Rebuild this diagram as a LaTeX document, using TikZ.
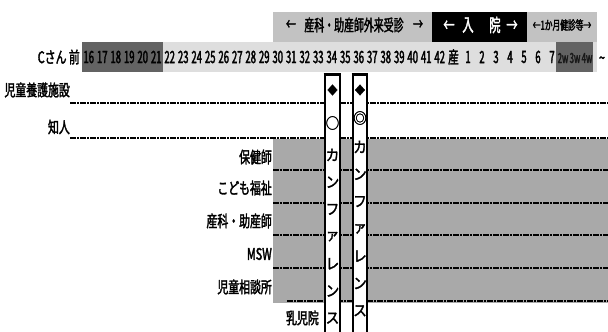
\documentclass[tikz,border=0pt]{standalone}
\usepackage{fontspec}
\newfontfamily\jp[FakeStretch=0.68,FakeBold=2]{Noto Sans CJK JP}
\newfontfamily\jph[FakeStretch=0.62,FakeBold=2]{Noto Sans CJK JP}
\newfontfamily\jpn[FakeStretch=0.56,FakeBold=2]{Noto Sans CJK JP}
\newfontfamily\jpv[FakeStretch=0.9,FakeBold=2]{Noto Sans CJK JP}
\definecolor{hdrgray}{HTML}{C2C2C2}
\definecolor{bandgray}{HTML}{DEDEDE}
\definecolor{darkband}{HTML}{636363}
\definecolor{rowgray}{HTML}{A9A9A9}
\begin{document}
\begin{tikzpicture}[x=1pt,y=-1pt,
  lbl/.style={font=\jp\fontsize{16}{16}\selectfont, inner sep=0pt, anchor=east},
  num/.style={font=\jpn\fontsize{17}{17}\selectfont, inner sep=0pt},
  rowline/.style={line width=2.2pt, dash pattern=on 6pt off 1pt on 2pt off 1pt},
  conf/.style={draw, line width=1.4pt, fill=white, inner sep=0pt, anchor=north},
  vch/.style={font=\jpv\fontsize{15}{15}\selectfont, inner sep=0pt},
  hdr/.style={font=\jph\fontsize{16}{16}\selectfont, inner sep=0pt}]
\useasboundingbox (0,0) rectangle (608,332);
\fill[white] (0,0) rectangle (608,332);

% header band
\fill[hdrgray] (273,12) rectangle (597,42);
\fill[black] (432,12) rectangle (527,43);
\node[hdr] (harrL) at (291,25) {←};
\node[hdr] (htext) at (354,25) {産科・助産師外来受診};
\node[hdr] (harrR) at (418,25) {→};
\node[hdr, text=white, font=\jph\fontsize{18}{18}\selectfont] (inL) at (449,26) {←};
\node[hdr, text=white, font=\jph\fontsize{18}{18}\selectfont] (inA) at (468,25) {入};
\node[hdr, text=white, font=\jph\fontsize{18}{18}\selectfont] (inB) at (495,25) {院};
\node[hdr, text=white, font=\jph\fontsize{18}{18}\selectfont] (inR) at (512,26) {→};
\node[hdr, font=\jph\fontsize{12.5}{12.5}\selectfont] (kenshin) at (562,25) {←1か月健診等→};

% numbers band
\fill[bandgray] (82,42) rectangle (597,72);
\fill[darkband] (82,42) rectangle (163,72);
\fill[darkband] (556,42) rectangle (593,72);
\node[lbl] (csan) at (80,57) {Cさん 前};
\foreach \n [count=\i from 0] in {16,17,18,19,20,21}
  \node[num] (d\n) at (88.75+13.5*\i,57) {\n};
\foreach \n [count=\i from 0] in {22,23,24,25,26,27,28,29,30,31,32,33,34,35,36,37,38,39,40,41,42}
  \node[num] (d\n) at (169.75+13.5*\i,57) {\n};
\node[num, font=\jph\fontsize{17}{17}\selectfont] (birth) at (453.5,57) {産};
\foreach \n [count=\i from 0] in {1,2,3,4,5,6,7}
  \node[num] (p\n) at (468+14*\i,57) {\n};
\node[num, text=black!90, font=\jpn\fontsize{14}{14}\selectfont] (w2) at (563,58) {2w};
\node[num, text=black!90, font=\jpn\fontsize{14}{14}\selectfont] (w3) at (575,58) {3w};
\node[num, text=black!90, font=\jpn\fontsize{14}{14}\selectfont] (w4) at (587,58) {4w};
\node[num, font=\jp\fontsize{16}{16}\selectfont] (tilde) at (602,60) {\textasciitilde};

% gray area of rows
\fill[rowgray] (273,139) rectangle (608,303);

% row labels
\node[lbl] (l1) at (70,90) {児童養護施設};
\node[lbl] (l2) at (70,127) {知人};
\node[lbl] (l3) at (272,157) {保健師};
\node[lbl] (l4) at (272,188) {こども福祉};
\node[lbl] (l5) at (272,221) {産科・助産師};
\node[lbl] (l6) at (272,254) {MSW};
\node[lbl] (l7) at (272,287) {児童相談所};
\node[lbl] (l8) at (319,318) {乳児院};

% row lines
\coordinate (a1) at (70,103);  \coordinate (b1) at (608,103);
\coordinate (a2) at (70,138);  \coordinate (b2) at (608,138);
\coordinate (a3) at (273,170); \coordinate (b3) at (608,170);
\coordinate (a4) at (273,203); \coordinate (b4) at (608,203);
\coordinate (a5) at (273,235); \coordinate (b5) at (608,235);
\coordinate (a6) at (273,268); \coordinate (b6) at (608,268);
\coordinate (a7) at (287,301); \coordinate (b7) at (608,301);
\foreach \k in {1,...,7} \draw[rowline] (a\k) -- (b\k);

% conference boxes
\node[conf, minimum width=15pt, minimum height=262pt] (box1) at (332.5,74) {};
\node[conf, minimum width=14pt, minimum height=262pt] (box2) at (360,74) {};
\draw[line width=3pt] ([xshift=-0.7pt]box1.north west) -- ([xshift=0.7pt]box1.north east);
\draw[line width=3pt] ([xshift=-0.7pt]box2.north west) -- ([xshift=0.7pt]box2.north east);

\node[vch, font=\jpv\fontsize{11}{11}\selectfont] (c1s) at (332.5,90) {◆};
\node[vch] (c1m) at (332.5,123) {○};
\foreach \c [count=\i from 0] in {カ,ン,フ,ァ,レ,ン,ス}
  \node[vch] (c1k\i) at (332.5,155+27.2*\i) {\c};

\node[vch, font=\jpv\fontsize{11}{11}\selectfont] (c2s) at (360,90) {◆};
\node[vch] (c2m) at (360,118) {◎};
\foreach \c [count=\i from 0] in {カ,ン,フ,ァ,レ,ン,ス}
  \node[vch] (c2k\i) at (360,147+27.3*\i) {\c};
\end{tikzpicture}
\end{document}
